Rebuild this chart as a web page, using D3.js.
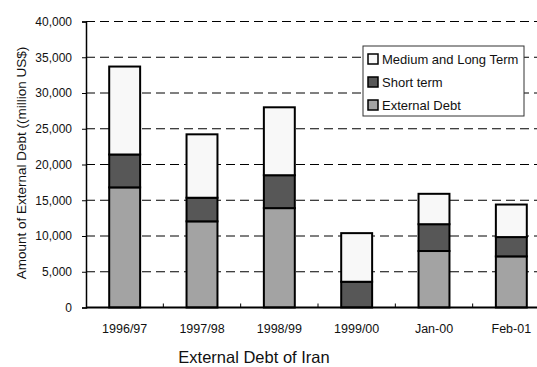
<!DOCTYPE html>
<html><head><meta charset="utf-8">
<script src="https://cdn.jsdelivr.net/npm/d3@7"></script>
<style>body{margin:0;background:#fff;}svg{display:block;font-family:"Liberation Sans",Arial,sans-serif;}</style>
</head><body><svg id="c" width="537" height="367"></svg>
<script>
const categories = ["1996/97","1997/98","1998/99","1999/00","Jan-00","Feb-01"];
const externalDebt = [16800, 12050, 13900, 0, 7900, 7150];
const shortTerm = [4600, 3300, 4600, 3600, 3750, 2700];
const mediumLong = [12300, 8870, 9500, 6800, 4250, 4550];
const yTicks = [0,5000,10000,15000,20000,25000,30000,35000,40000];
const seriesNames = ["External Debt","Short term","Medium and Long Term"];
const seriesColors = ["#a3a3a3","#575757","#f8f8f8"];

const svg = d3.select("#c");
const L=86, R=550, T=21.5, B=307.5;
const x = d3.scaleBand().domain(categories).range([L,R]).paddingInner(0.6).paddingOuter(0.3);
const y = d3.scaleLinear().domain([0,40000]).range([B,T]);

// gridlines
svg.append("g").selectAll("line").data(yTicks.filter(d=>d>0)).join("line")
  .attr("x1",L).attr("x2",R).attr("y1",d=>y(d)).attr("y2",d=>y(d))
  .attr("stroke","#000").attr("stroke-width",1).attr("stroke-dasharray","9,5");

// stacks
const rows = categories.map((c,i)=>({cat:c, ext:externalDebt[i], st:shortTerm[i], ml:mediumLong[i]}));
const stack = d3.stack().keys(["ext","st","ml"])(rows);
svg.append("g").selectAll("g").data(stack).join("g")
  .attr("fill",(d,i)=>seriesColors[i])
  .selectAll("rect").data(d=>d.filter(s=>s[1]-s[0]>0)).join("rect")
  .attr("x",d=>x(d.data.cat)).attr("width",x.bandwidth())
  .attr("y",d=>y(d[1])).attr("height",d=>y(d[0])-y(d[1]))
  .attr("stroke","#000").attr("stroke-width",2);

// y axis
const ya = svg.append("g").attr("transform",`translate(${L},0)`)
  .call(d3.axisLeft(y).tickValues(yTicks).tickSize(4).tickPadding(10).tickFormat(d3.format(",")));
ya.select(".domain").attr("stroke","#000").attr("stroke-width",1.5);
ya.selectAll("text").attr("font-size",12).attr("fill","#111").attr("font-family","'Liberation Sans',Arial,sans-serif");

// x axis
const xa = svg.append("g").attr("transform",`translate(0,${B})`)
  .call(d3.axisBottom(x).tickSize(0).tickPadding(17));
xa.select(".domain").remove();
xa.selectAll("text").attr("font-size",12.5).attr("fill","#111").attr("font-family","'Liberation Sans',Arial,sans-serif");
svg.append("line").attr("x1",L).attr("x2",R).attr("y1",B).attr("y2",B).attr("stroke","#000").attr("stroke-width",2);
const step = x.step();
svg.append("g").selectAll("line").data(categories.slice(0,-1)).join("line")
  .attr("x1",d=>x(d)+x.bandwidth()/2+step/2).attr("x2",d=>x(d)+x.bandwidth()/2+step/2)
  .attr("y1",B).attr("y2",B-4).attr("stroke","#000").attr("stroke-width",1);

// titles
svg.append("text").attr("x",254).attr("y",363).attr("text-anchor","middle")
  .attr("font-size",16.5).attr("fill","#111").text("External Debt of Iran");
svg.append("text").attr("transform","translate(26,163) rotate(-90)").attr("text-anchor","middle")
  .attr("font-size",13.5).attr("fill","#111").text("Amount of External Debt ((million US$)");

// legend
const lg = svg.append("g");
lg.append("rect").attr("x",363).attr("y",46).attr("width",161).attr("height",70)
  .attr("fill","#fff").attr("stroke","#333").attr("stroke-width",1);
const legendOrder = [2,1,0];
legendOrder.forEach((si,k)=>{
  const yy = 54 + k*23;
  lg.append("rect").attr("x",368).attr("y",yy).attr("width",10).attr("height",10)
    .attr("fill",seriesColors[si]).attr("stroke","#000").attr("stroke-width",1.5);
  lg.append("text").attr("x",382).attr("y",yy+10).attr("font-size",13).attr("fill","#111").text(seriesNames[si]);
});
</script></body></html>
